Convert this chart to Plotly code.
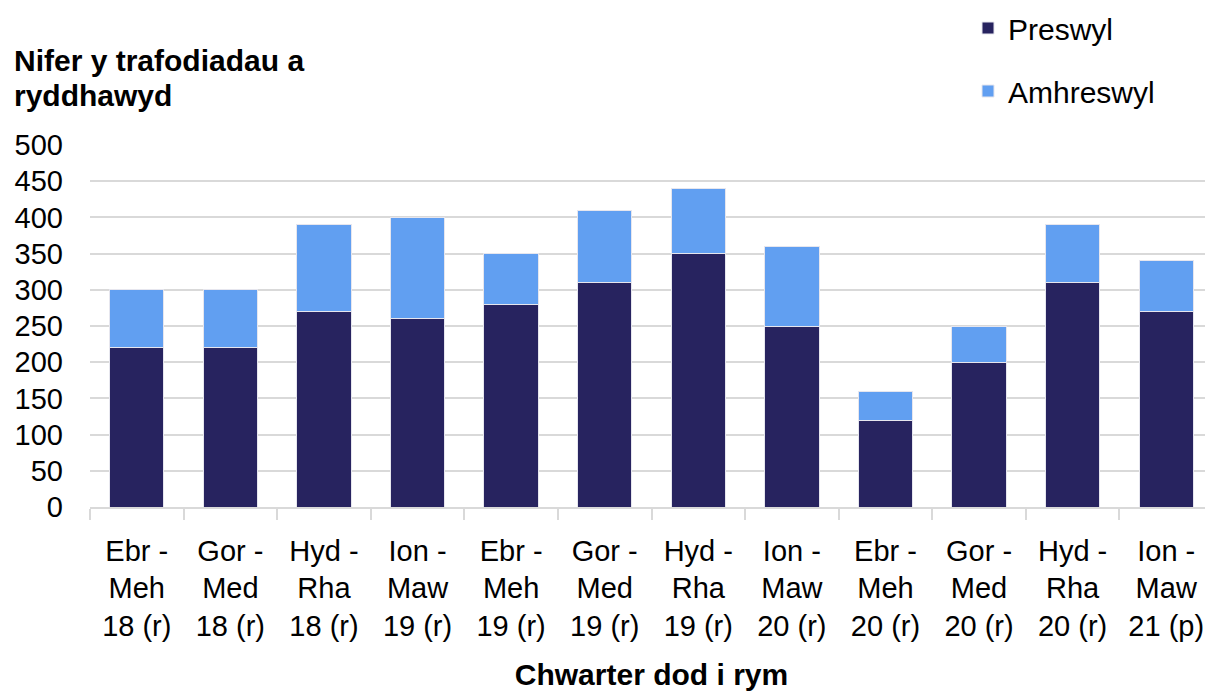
import plotly.graph_objects as go

categories = ["Ebr -<br>Meh<br>18 (r)", "Gor -<br>Med<br>18 (r)", "Hyd -<br>Rha<br>18 (r)", "Ion -<br>Maw<br>19 (r)",
              "Ebr -<br>Meh<br>19 (r)", "Gor -<br>Med<br>19 (r)", "Hyd -<br>Rha<br>19 (r)", "Ion -<br>Maw<br>20 (r)",
              "Ebr -<br>Meh<br>20 (r)", "Gor -<br>Med<br>20 (r)", "Hyd -<br>Rha<br>20 (r)", "Ion -<br>Maw<br>21 (p)"]
preswyl = [220, 220, 270, 260, 280, 310, 350, 250, 120, 200, 310, 270]
amhreswyl = [80, 80, 120, 140, 70, 100, 90, 110, 40, 50, 80, 70]

FONT = "Liberation Sans, Arial, sans-serif"
W, H = 1205, 683

fig = go.Figure()
fig.add_trace(go.Bar(x=categories, y=preswyl, name="Preswyl", legendgroup="a",
                     marker=dict(color="#27235F", line=dict(color="#E6E6EE", width=1))))
fig.add_trace(go.Bar(x=categories, y=amhreswyl, name="Amhreswyl", legendgroup="b",
                     marker=dict(color="#619FF1", line=dict(color="#E6E6EE", width=1))))

fig.update_layout(
    barmode="stack",
    bargap=0.42,
    width=W, height=H,
    margin=dict(l=82, r=0, t=137, b=184, autoexpand=False),
    plot_bgcolor="white", paper_bgcolor="white",
    font=dict(family=FONT, size=30, color="black"),
    legend=dict(x=960 / W, y=1 + (137 + 6) / 362, xref="container", yref="paper",
                xanchor="left", yanchor="top",
                traceorder="grouped", tracegroupgap=21, font=dict(size=30),
                itemwidth=30, bgcolor="rgba(0,0,0,0)"),
    showlegend=True,
)
fig.update_yaxes(range=[0, 500], dtick=50, showgrid=True, gridcolor="#D9D9D9", gridwidth=1.5,
                 zeroline=False, ticks="", ticklabelstandoff=26, tickfont=dict(size=29),
                 automargin=False)
fig.update_xaxes(tickson="boundaries", ticks="outside", ticklen=11, tickcolor="#D9D9D9", tickwidth=1.5,
                 showline=True, linecolor="#D9D9D9", linewidth=1.5, tickfont=dict(size=29),
                 ticklabelstandoff=17, automargin=False,
                 title=dict(text="<b>Chwarter dod i rym</b>", font=dict(size=30), standoff=33))

fig.add_annotation(text="<b>Nifer y trafodiadau a</b>", xref="paper", yref="paper",
                   x=-78 / (W - 82), y=1 + (137 - 52) / 362, xanchor="left", yanchor="middle",
                   align="left", showarrow=False, font=dict(size=30))
fig.add_annotation(text="<b>ryddhawyd</b>", xref="paper", yref="paper",
                   x=-78 / (W - 82), y=1 + (137 - 87) / 362, xanchor="left", yanchor="middle",
                   align="left", showarrow=False, font=dict(size=30))

fig.write_html("out.html")
